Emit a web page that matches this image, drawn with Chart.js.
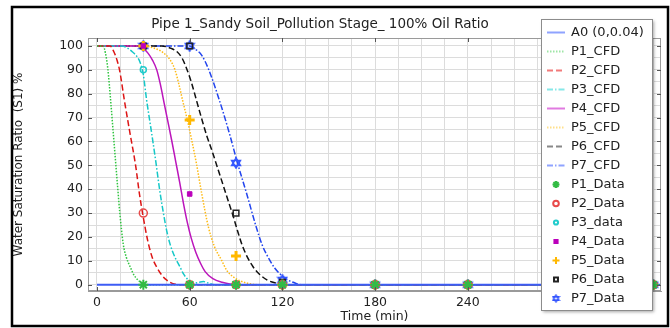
<!DOCTYPE html>
<html>
<head>
<meta charset="utf-8">
<script src="https://cdn.jsdelivr.net/npm/chart.js@4.4.0/dist/chart.umd.min.js"></script>
<style>
  html, body { margin: 0; padding: 0; background: #fff; }
  #wrap { width: 670px; height: 328px; position: relative; }
</style>
</head>
<body>
<div id="wrap"><canvas id="chart" width="670" height="328"></canvas></div>
<script>
const FONT = '"DejaVu Sans", Verdana, sans-serif';
const TEXT = '#222';
const TITLE = 'Pipe 1_Sandy Soil_Pollution Stage_ 100% Oil Ratio';

// axis ticks
const xGridTicks = [0, 15, 30, 45, 60, 75, 90, 105, 120, 135, 150, 165, 180, 195, 210, 225, 240, 255, 270, 285, 300, 315, 330, 345, 360];
const xTickLabels = [0, 60, 120, 180, 240, 300];
const yGridTicks = [0, 5, 10, 15, 20, 25, 30, 35, 40, 45, 50, 55, 60, 65, 70, 75, 80, 85, 90, 95, 100];
const yTickLabels = [0, 10, 20, 30, 40, 50, 60, 70, 80, 90, 100];

// A0 line
const a0Time = [0, 365];
const a0Sat = [0, 0];

// CFD curves (time min, saturation %)
const p1CfdTime = [0, 4, 5.5, 7, 9, 10.5, 12, 13.5, 14.8, 17, 19, 21.5, 24, 26.5, 30, 34, 365];
const p1CfdSat  = [100, 100, 97, 90.6, 76, 64, 52, 40, 30, 17, 11.5, 7.5, 4, 2, 0.3, 0, 0];
const p2CfdTime = [0, 8.5, 11, 13, 14.6, 17.8, 21.5, 25, 27.5, 29.5, 33, 36, 39, 42, 45, 50, 55, 365];
const p2CfdSat  = [100, 100, 97.5, 94, 90, 77, 63, 50, 38, 30, 18, 11, 7, 4, 2, 0.3, 0, 0];
const p3CfdTime = [0, 16, 20, 23, 26, 28, 30, 32, 35.5, 38.2, 40.5, 43, 45, 47.3, 50.5, 53.7, 56, 59, 62, 66, 69, 72, 76, 365];
const p3CfdSat  = [100, 100, 99, 97.5, 95.5, 93, 88, 78, 63, 51, 40, 30, 23, 17, 11.5, 7.5, 4.5, 2, 0.5, 1, 1.3, 0.7, 0, 0];
const p4CfdTime = [0, 27, 30, 33, 36, 38.7, 41, 43.5, 46, 48.5, 51, 53.5, 56, 58.5, 61, 64, 67, 70, 75, 81, 90, 365];
const p4CfdSat  = [100, 100, 99, 97, 94, 90, 84, 76, 68, 60, 51.5, 43, 34, 26, 19.5, 13.5, 9, 5.5, 2.5, 1, 0, 0];
const p5CfdTime = [0, 31, 36, 41, 45, 48, 50.5, 53, 55.5, 58.5, 61.5, 64.3, 67.7, 72, 76, 80.6, 84, 88, 93, 100, 105, 365];
const p5CfdSat  = [100, 100, 99.3, 98, 96, 93.5, 90, 84, 77, 69, 60, 51, 38.5, 24.5, 16, 10.3, 6, 3.4, 1.5, 0.3, 0, 0];
const p6CfdTime = [0, 42, 48, 52, 55, 58, 61, 64.5, 68, 71, 74.5, 78, 81.5, 85, 88, 91, 94, 97, 101, 105, 110, 116, 122, 365];
const p6CfdSat  = [100, 100, 99, 97.5, 95, 90.6, 85, 77, 69, 62.5, 56, 49, 42, 35, 29, 22.5, 16.5, 12, 7.5, 4.5, 2, 0.7, 0, 0];
const p7CfdTime = [0, 60, 64, 67.7, 72, 79.5, 86, 90.7, 96.8, 103, 107, 111.8, 115, 118, 122, 127, 132, 365];
const p7CfdSat  = [100, 100, 98.5, 96.2, 90.6, 76.7, 62.7, 51.5, 38.3, 24.3, 16.5, 10.3, 7, 4.8, 2.5, 1, 0, 0];

// measured data
const dataTime = [30, 60, 90, 120, 180, 240, 300, 360];
const p1Data = [0, 0, 0, 0, 0, 0, 0, 0];
const p2Data = [30, 0, 0, 0, 0, 0, 0, 0];
const p3Data = [90, 0, 0, 0, 0, 0, 0, 0];
const p4Data = [100, 38, 0, 0, 0, 0, 0, 0];
const p5Data = [100, 69, 12, 0, 0, 0, 0, 0];
const p6Data = [100, 100, 30, 1, 0, 0, 0, 0];
const p7Data = [100, 100, 51, 2, 0, 0, 0, 0];

const pts = (xs, ys) => xs.map((x, i) => ({ x: x, y: ys[i] }));

// six-pointed star marker for P7
function hexagram(color, size, lw) {
  const c = document.createElement('canvas');
  c.width = c.height = size;
  const g = c.getContext('2d');
  const r = size / 2 - 1, m = size / 2;
  g.strokeStyle = color;
  g.lineWidth = lw;
  [-Math.PI / 2, Math.PI / 2].forEach(off => {
    g.beginPath();
    for (let k = 0; k < 3; k++) {
      const a = off + k * 2 * Math.PI / 3;
      const px = m + r * Math.cos(a), py = m + r * Math.sin(a);
      if (k) g.lineTo(px, py); else g.moveTo(px, py);
    }
    g.closePath();
    g.stroke();
  });
  return c;
}

const cfd = (label, xs, ys, color, dash, legendColor) => ({
  label: label, data: pts(xs, ys), borderColor: color, borderWidth: 1.5,
  borderDash: dash, pointRadius: 0, cubicInterpolationMode: 'monotone',
  fill: false, order: 2, legendColor: legendColor
});
const meas = (label, ys, color, style, radius, bw, filled, legendStyle) => ({
  label: label, data: pts(dataTime, ys), showLine: false,
  borderColor: color, backgroundColor: filled ? color : 'rgba(255,255,255,0)',
  pointStyle: style, pointRadius: radius, pointBorderWidth: bw, order: 1,
  legendStyle: legendStyle || style
});

const datasets = [
  Object.assign(cfd('A0 (0,0.04)', a0Time, a0Sat, '#3d5cf5', [], '#8fa3ff'), { borderWidth: 2 }),
  cfd('P1_CFD', p1CfdTime, p1CfdSat, '#2fc43f', [1.5, 1.5], '#9ee6a6'),
  cfd('P2_CFD', p2CfdTime, p2CfdSat, '#dd1515', [6, 3], '#f27a7a'),
  cfd('P3_CFD', p3CfdTime, p3CfdSat, '#15c8c8', [6, 2, 1.5, 2], '#86e8e8'),
  cfd('P4_CFD', p4CfdTime, p4CfdSat, '#bb15bb', [], '#e07ae0'),
  cfd('P5_CFD', p5CfdTime, p5CfdSat, '#ffbb15', [1.5, 1.5], '#ffe08a'),
  cfd('P6_CFD', p6CfdTime, p6CfdSat, '#111111', [6, 3], '#888888'),
  cfd('P7_CFD', p7CfdTime, p7CfdSat, '#2244ee', [6, 2, 1.5, 2], '#8fa3ff'),
  meas('P1_Data', p1Data, '#33bb44', 'star', 5, 2, true),
  meas('P2_Data', p2Data, '#e84a4a', 'circle', 4, 1.5, false),
  meas('P3_data', p3Data, '#22cccc', 'circle', 3, 1.5, false),
  meas('P4_Data', p4Data, '#bb00bb', 'rect', 3.2, 1, true),
  meas('P5_Data', p5Data, '#ffb800', 'cross', 5, 3, true),
  meas('P6_Data', p6Data, '#222222', 'rect', 4, 1.5, false),
  meas('P7_Data', p7Data, '#3355ff', hexagram('#3355ff', 12, 1.6), 6, 1, false, hexagram('#3355ff', 9, 1.4))
];

const decor = {
  id: 'decor',
  afterDraw(chart) {
    const ctx = chart.ctx;
    const a = chart.chartArea;
    const xs = chart.scales.x, ys = chart.scales.y;
    ctx.save();
    // title
    ctx.fillStyle = TEXT;
    ctx.font = '13.5px ' + FONT;
    ctx.textAlign = 'center';
    ctx.textBaseline = 'middle';
    ctx.fillText(TITLE, 320, 24);
    ctx.textAlign = 'left';
    // plot frame
    ctx.strokeStyle = '#9a9a9a';
    ctx.lineWidth = 1;
    ctx.strokeRect(a.left + 0.5, a.top + 0.5, a.right - a.left - 1, a.bottom - a.top - 1);
    // inside tick marks
    ctx.strokeStyle = '#555';
    ctx.beginPath();
    xTickLabels.forEach(v => {
      const px = Math.round(xs.getPixelForValue(v)) + 0.5;
      ctx.moveTo(px, a.top); ctx.lineTo(px, a.top + 4);
      ctx.moveTo(px, a.bottom); ctx.lineTo(px, a.bottom - 4);
    });
    yTickLabels.forEach(v => {
      const py = Math.round(ys.getPixelForValue(v)) + 0.5;
      ctx.moveTo(a.left, py); ctx.lineTo(a.left + 4, py);
      ctx.moveTo(a.right, py); ctx.lineTo(a.right - 4, py);
    });
    ctx.stroke();

    // legend box
    const bx = 541, by = 19, bw = 111, bh = 291;
    ctx.shadowColor = 'rgba(0,0,0,0.35)';
    ctx.shadowOffsetX = 2; ctx.shadowOffsetY = 2; ctx.shadowBlur = 3;
    ctx.fillStyle = '#fff';
    ctx.fillRect(bx, by, bw, bh);
    ctx.shadowColor = 'transparent';
    ctx.strokeStyle = '#8c8c8c';
    ctx.strokeRect(bx + 0.5, by + 0.5, bw, bh);
    ctx.font = '13px ' + FONT;
    ctx.textBaseline = 'middle';
    chart.data.datasets.forEach((ds, i) => {
      const y = 32.5 + i * 19;
      if (ds.showLine === false) {
        ctx.strokeStyle = ds.borderColor;
        ctx.fillStyle = ds.backgroundColor;
        ctx.setLineDash([]);
        Chart.helpers.drawPoint(ctx, {
          pointStyle: ds.legendStyle, radius: ds.pointRadius * 0.7,
          borderWidth: ds.pointBorderWidth, rotation: 0
        }, 556, y);
      } else {
        ctx.strokeStyle = ds.legendColor;
        ctx.lineWidth = 2;
        ctx.setLineDash(ds.borderDash);
        ctx.beginPath();
        ctx.moveTo(547, y); ctx.lineTo(565, y);
        ctx.stroke();
        ctx.setLineDash([]);
      }
      ctx.fillStyle = TEXT;
      ctx.fillText(ds.label, 571, y + 0.5);
    });

    // outer figure frame
    ctx.strokeStyle = '#000';
    ctx.lineWidth = 2.5;
    ctx.strokeRect(12, 7, 656, 319);
    ctx.restore();
  }
};

new Chart(document.getElementById('chart'), {
  type: 'line',
  data: { datasets: datasets },
  plugins: [decor],
  options: {
    responsive: false,
    animation: false,
    layout: { padding: { left: 12, right: 9, top: 38, bottom: 4 } },
    plugins: {
      legend: { display: false },
      tooltip: { enabled: false },
      title: { display: false }
    },
    scales: {
      x: {
        type: 'linear', min: -5.8, max: 365,
        afterBuildTicks: s => { s.ticks = xGridTicks.map(v => ({ value: v })); },
        afterFit: s => { s.height = 33; },
        ticks: {
          autoSkip: false, maxRotation: 0, padding: 4, color: TEXT,
          font: { family: FONT, size: 12.5 },
          callback: v => xTickLabels.includes(v) ? String(v) : ''
        },
        grid: { color: '#dcdcdc', drawTicks: false },
        border: { color: '#9a9a9a' },
        title: {
          display: true, text: 'Time (min)', color: TEXT,
          font: { family: FONT, size: 12.5 }, padding: { top: 0, bottom: 0 }
        }
      },
      y: {
        type: 'linear', min: -2.64, max: 103.35,
        afterBuildTicks: s => { s.ticks = yGridTicks.map(v => ({ value: v })); },
        afterFit: s => { s.width = 76; },
        ticks: {
          autoSkip: false, padding: 5, color: TEXT,
          font: { family: FONT, size: 12.5 },
          callback: v => yTickLabels.includes(v) ? String(v) : ''
        },
        grid: { color: '#dcdcdc', drawTicks: false },
        border: { color: '#9a9a9a' },
        title: {
          display: true, text: 'Water Saturation Ratio  (S1) %', color: TEXT,
          font: { family: FONT, size: 12 }, padding: { top: 0, bottom: 0 }
        }
      }
    }
  }
});
</script>
</body>
</html>
